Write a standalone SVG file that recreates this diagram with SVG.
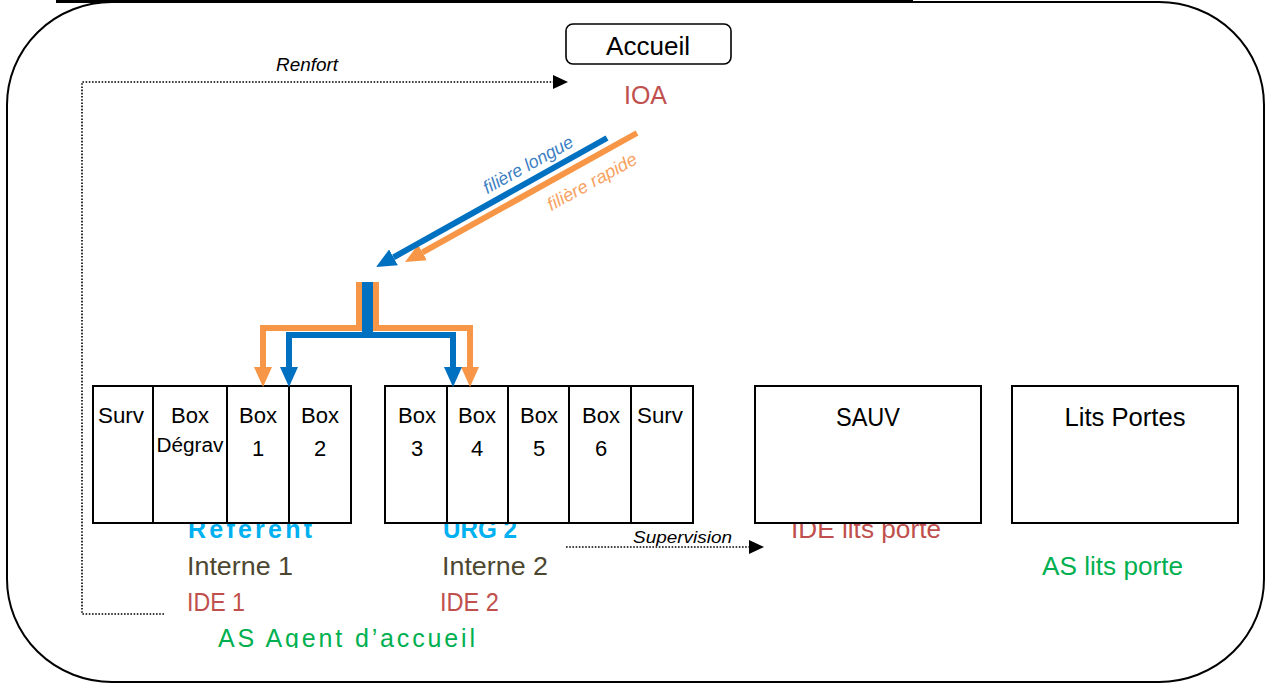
<svg xmlns="http://www.w3.org/2000/svg" width="1266" height="684" viewBox="0 0 1266 684">
<style>
text{font-family:"Liberation Sans",Arial,sans-serif;}
.box{fill:#fff;stroke:#000;stroke-width:2;}
.cell{stroke:#000;stroke-width:2;}
.bt{font-size:22px;fill:#000;text-anchor:middle;}
.big{font-size:25px;}
.dot{fill:none;stroke:#000;stroke-width:1.6;stroke-dasharray:1.6 1.6;}
.blue{fill:none;stroke:#0070C0;stroke-width:6;}
.orange{fill:none;stroke:#F79646;stroke-width:6;}
.ide{fill:#C0504D;}
.int{fill:#4D4731;}
.as{fill:#00B050;}
.ref{fill:#00B0F0;font-weight:bold;}
</style>
<defs>
<marker id="hb" viewBox="0 -10 22 20" refX="0" refY="0" markerWidth="22" markerHeight="20" markerUnits="userSpaceOnUse" orient="auto"><path d="M0,-9 L20,0 L0,9 z" fill="#0070C0"/></marker>
<marker id="ho" viewBox="0 -10 22 20" refX="0" refY="0" markerWidth="22" markerHeight="20" markerUnits="userSpaceOnUse" orient="auto"><path d="M0,-9 L20,0 L0,9 z" fill="#F79646"/></marker>
<marker id="hk" viewBox="0 -8 16 16" refX="0" refY="0" markerWidth="16" markerHeight="16" markerUnits="userSpaceOnUse" orient="auto"><path d="M0,-7 L15,0 L0,7 z" fill="#000"/></marker>
<clipPath id="clipAS"><rect x="0" y="0" width="1266" height="648"/></clipPath>
</defs>

<g id="frame">
<rect x="7" y="2" width="1257" height="680" rx="105" ry="103" fill="#fff" stroke="#000" stroke-width="2"/>
<rect x="56" y="0" width="857" height="3" fill="#000"/>
</g>

<g id="labels">
<text class="ref big" x="188" y="538" textLength="124" lengthAdjust="spacing">Referent</text>
<text class="ref big" x="443" y="538" textLength="74" lengthAdjust="spacingAndGlyphs">URG 2</text>
<text class="ide big" x="791" y="538" textLength="150" lengthAdjust="spacingAndGlyphs">IDE lits porte</text>
<text class="int big" x="187" y="575" textLength="106" lengthAdjust="spacingAndGlyphs">Interne 1</text>
<text class="int big" x="442" y="575" textLength="106" lengthAdjust="spacingAndGlyphs">Interne 2</text>
<text class="as big" x="1042" y="575" textLength="141" lengthAdjust="spacingAndGlyphs">AS lits porte</text>
<text class="ide big" x="187" y="611" textLength="58" lengthAdjust="spacingAndGlyphs">IDE 1</text>
<text class="ide big" x="440" y="611" textLength="59" lengthAdjust="spacingAndGlyphs">IDE 2</text>
<text class="as big" x="218" y="647" textLength="257" lengthAdjust="spacing" clip-path="url(#clipAS)">AS Agent d’accueil</text>
</g>

<g id="accueil">
<rect x="566" y="24" width="165" height="40" rx="7" fill="#fff" stroke="#000" stroke-width="1.6"/>
<text class="big" x="648" y="55" text-anchor="middle" textLength="84" lengthAdjust="spacingAndGlyphs">Accueil</text>
<text class="ide big" x="645.5" y="104" text-anchor="middle" textLength="43" lengthAdjust="spacingAndGlyphs">IOA</text>
</g>

<g id="group-left">
<rect class="box" x="93" y="386" width="258" height="137"/>
<line class="cell" x1="153" y1="386" x2="153" y2="523"/>
<line class="cell" x1="227" y1="386" x2="227" y2="523"/>
<line class="cell" x1="289" y1="386" x2="289" y2="523"/>
<text class="bt" x="121" y="423" textLength="46" lengthAdjust="spacingAndGlyphs">Surv</text>
<text class="bt" x="190" y="423" textLength="38" lengthAdjust="spacingAndGlyphs">Box</text>
<text class="bt" x="190" y="452" style="font-size:20px" textLength="67" lengthAdjust="spacingAndGlyphs">Dégrav</text>
<text class="bt" x="258" y="423" textLength="38" lengthAdjust="spacingAndGlyphs">Box</text>
<text class="bt" x="258" y="456">1</text>
<text class="bt" x="320" y="423" textLength="38" lengthAdjust="spacingAndGlyphs">Box</text>
<text class="bt" x="320" y="456">2</text>
</g>

<g id="group-right">
<rect class="box" x="385" y="386" width="308" height="137"/>
<line class="cell" x1="447" y1="386" x2="447" y2="523"/>
<line class="cell" x1="508" y1="386" x2="508" y2="523"/>
<line class="cell" x1="569" y1="386" x2="569" y2="523"/>
<line class="cell" x1="631" y1="386" x2="631" y2="523"/>
<text class="bt" x="417" y="423" textLength="38" lengthAdjust="spacingAndGlyphs">Box</text>
<text class="bt" x="417" y="456">3</text>
<text class="bt" x="477" y="423" textLength="38" lengthAdjust="spacingAndGlyphs">Box</text>
<text class="bt" x="477" y="456">4</text>
<text class="bt" x="539" y="423" textLength="38" lengthAdjust="spacingAndGlyphs">Box</text>
<text class="bt" x="539" y="456">5</text>
<text class="bt" x="601" y="423" textLength="38" lengthAdjust="spacingAndGlyphs">Box</text>
<text class="bt" x="601" y="456">6</text>
<text class="bt" x="660" y="423" textLength="46" lengthAdjust="spacingAndGlyphs">Surv</text>
</g>

<g id="sauv">
<rect class="box" x="755" y="386" width="226" height="137"/>
<text class="big" x="868" y="426" text-anchor="middle" textLength="64" lengthAdjust="spacingAndGlyphs">SAUV</text>
</g>

<g id="lits-portes">
<rect class="box" x="1012" y="386" width="226" height="137"/>
<text class="big" x="1125" y="426" text-anchor="middle" textLength="121" lengthAdjust="spacingAndGlyphs">Lits Portes</text>
</g>

<g id="connectors">
<path class="dot" d="M164,614 H82 V82 H553" marker-end="url(#hk)"/>
<text x="276" y="71" font-style="italic" font-size="18" textLength="62" lengthAdjust="spacingAndGlyphs">Renfort</text>
<path class="dot" d="M566,547 H749" marker-end="url(#hk)"/>
<text x="633" y="543" font-style="italic" font-size="17" textLength="99" lengthAdjust="spacingAndGlyphs">Supervision</text>

<line class="orange" x1="637" y1="133" x2="422.5" y2="252.3" marker-end="url(#ho)"/>
<line class="blue" x1="607" y1="138" x2="393.5" y2="257.3" marker-end="url(#hb)"/>
<text x="531" y="170" transform="rotate(-29 531 170)" text-anchor="middle" font-style="italic" font-size="18" fill="#3C80C4" textLength="100" lengthAdjust="spacingAndGlyphs">filière longue</text>
<text x="595" y="187" transform="rotate(-29 595 187)" text-anchor="middle" font-style="italic" font-size="18" fill="#F7A262" textLength="100" lengthAdjust="spacingAndGlyphs">filière rapide</text>

<path class="orange" d="M359,282 V328 H263 V367" marker-end="url(#ho)"/>
<path class="orange" d="M376,282 V328 H470 V367" marker-end="url(#ho)"/>
<path class="blue" d="M365,282 V335 H289 V367" marker-end="url(#hb)"/>
<path class="blue" d="M370,282 V335 H453 V367" marker-end="url(#hb)"/>
</g>
</svg>
